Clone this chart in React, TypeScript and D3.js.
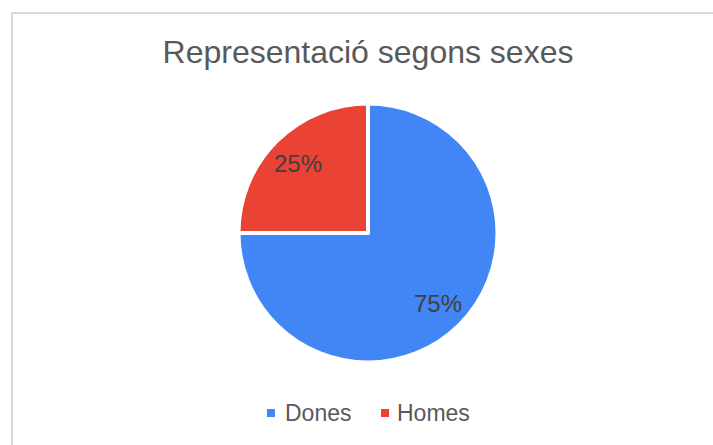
import React from "react";
import * as d3 from "d3";

const categories = ["Dones", "Homes"];
const values = [75, 25];
const colors = ["#4285F4", "#EA4335"];
const title = "Representació segons sexes";

const W = 713;
const H = 445;

export default function App() {
  const cx = 368;
  const cy = 233;
  const r = 129.5;
  const pie = d3.pie<number>().sort(null).value((d) => d)(values);
  const arc = d3.arc<d3.PieArcDatum<number>>().innerRadius(0).outerRadius(r);
  const total = d3.sum(values);
  const labelArc = d3.arc<d3.PieArcDatum<number>>().innerRadius(r * 0.765).outerRadius(r * 0.765);

  const font = "Arial, 'Liberation Sans', sans-serif";
  const legendY = 413;
  const legendItems = [
    { sq: 267, tx: 285 },
    { sq: 381, tx: 397 },
  ];

  return (
    <svg width={W} height={H} style={{ position: "absolute", left: 0, top: 0 }} fontFamily={font}>
      <rect x={0} y={0} width={W} height={H} fill="#fff" />
      <rect x={12} y={13} width={W + 10} height={H + 10} fill="#fff" stroke="#d9d9d9" strokeWidth={2} />
      <text x={368} y={63} textAnchor="middle" fontSize={32} fill="#595959">
        {title}
      </text>
      <g transform={`translate(${cx},${cy})`}>
        {pie.map((p, i) => (
          <path key={i} d={arc(p) || ""} fill={colors[i]} stroke="#fff" strokeWidth={4} strokeLinejoin="round" />
        ))}
        {pie.map((p, i) => {
          const [x, y] = labelArc.centroid(p);
          return (
            <text key={"l" + i} x={x} y={y} dy="0.36em" textAnchor="middle" fontSize={24} fill="#404040">
              {`${Math.round((values[i] / total) * 100)}%`}
            </text>
          );
        })}
      </g>
      {categories.map((c, i) => (
        <g key={c}>
          <rect x={legendItems[i].sq} y={legendY - 4} width={8} height={8} fill={colors[i]} />
          <text x={legendItems[i].tx} y={legendY} dy="0.36em" fontSize={23} fill="#595959">
            {c}
          </text>
        </g>
      ))}
    </svg>
  );
}
